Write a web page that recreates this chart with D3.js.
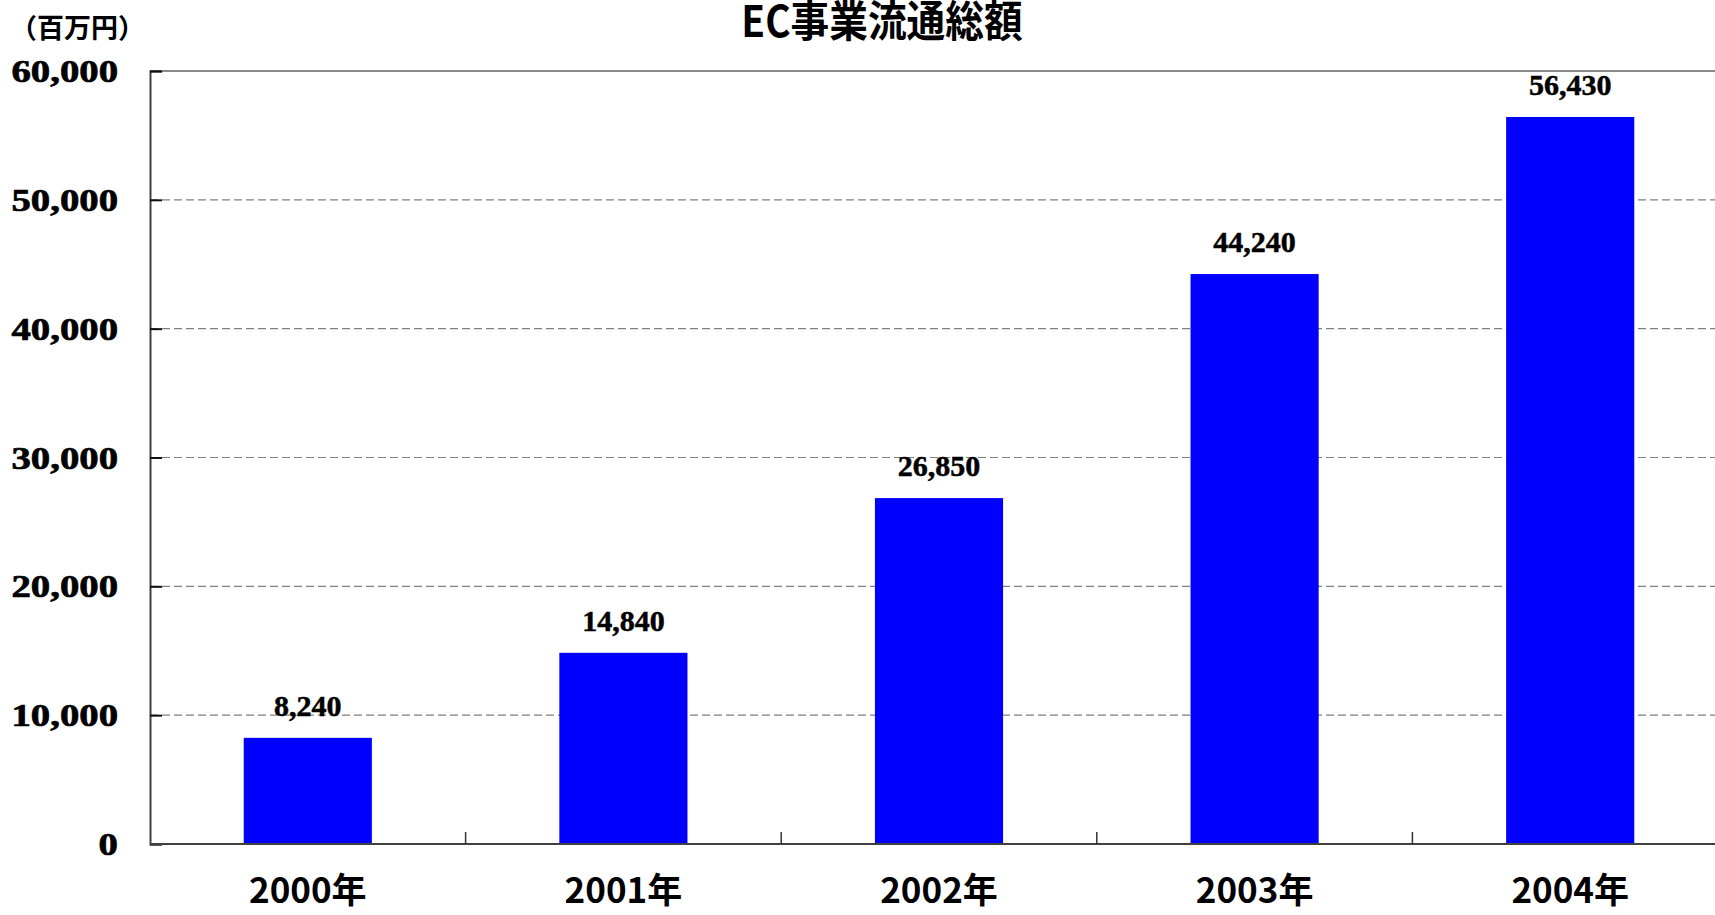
<!DOCTYPE html>
<html><head><meta charset="utf-8">
<script src="https://cdn.jsdelivr.net/npm/d3@7"></script>
<style>html,body{margin:0;padding:0;background:#fff;overflow:hidden}</style>
</head><body>
<svg id="chart" width="1715" height="915"></svg>
<script>
const categories = ["2000年","2001年","2002年","2003年","2004年"];
const values = [8240, 14840, 26850, 44240, 56430];
const yTicks = [0, 10000, 20000, 30000, 40000, 50000, 60000];
const titleText = "EC事業流通総額";
const unitText = "（百万円）";

const svg = d3.select("#chart");
const mLeft = 150, mRight = 1728, mTop = 71, mBottom = 844;
const serif = "'Liberation Serif','Times New Roman',serif";
const gothic = "'Noto Sans CJK JP','Noto Sans',sans-serif";

const x = d3.scaleBand().domain(categories).range([mLeft, mRight]).paddingInner(0.594).paddingOuter(0.297);
const y = d3.scaleLinear().domain([0, 60000]).range([mBottom, mTop]);
const fmt = d3.format(",");

// gridlines
svg.append("g").selectAll("line").data(yTicks.filter(d => d > 0 && d < 60000)).join("line")
  .attr("x1", mLeft).attr("x2", 1715).attr("y1", d => y(d)).attr("y2", d => y(d))
  .attr("stroke", "#808080").attr("stroke-width", 1.2).attr("stroke-dasharray", "8,4");
// top border
svg.append("line").attr("x1", mLeft).attr("x2", 1715).attr("y1", y(60000)).attr("y2", y(60000))
  .attr("stroke", "#888").attr("stroke-width", 2);

// bars
svg.append("g").selectAll("rect").data(values).join("rect")
  .attr("x", (d, i) => x(categories[i])).attr("width", x.bandwidth())
  .attr("y", d => y(d)).attr("height", d => y(0) - y(d)).attr("fill", "#0000FF");

// y axis
const yAxis = d3.axisLeft(y).tickValues(yTicks).tickSize(-12).tickPadding(0).tickFormat(fmt);
const gy = svg.append("g").attr("transform", `translate(${mLeft},0)`).call(yAxis);
gy.select(".domain").attr("stroke", "#404040").attr("stroke-width", 2);
gy.selectAll(".tick line").attr("stroke", "#111").attr("stroke-width", 2);
gy.selectAll(".tick text")
  .attr("font-family", serif).attr("font-weight", "bold").attr("font-size", 31)
  .attr("fill", "#000").attr("stroke", "#000").attr("stroke-width", 0.7)
  .attr("text-anchor", "end").attr("dy", "0.34em")
  .attr("x", 0)
  .attr("transform", "translate(-32,0) scale(1.25,1)");

// x axis
const xAxis = d3.axisBottom(x).tickSize(0).tickPadding(0);
const gx = svg.append("g").attr("transform", `translate(0,${mBottom})`).call(xAxis);
gx.select(".domain").attr("stroke", "#404040").attr("stroke-width", 2).attr("d", `M${mLeft},0H1715`);
gx.selectAll(".tick text")
  .attr("font-family", gothic).attr("font-weight", "bold").attr("font-size", 35)
  .attr("fill", "#000").attr("dy", 0).attr("y", 59);
// category separator ticks
const step = x.step();
svg.append("g").selectAll("line").data(d3.range(1, categories.length + 1)).join("line")
  .attr("x1", i => x(categories[0]) - x.paddingOuter() * step + i * step)
  .attr("x2", i => x(categories[0]) - x.paddingOuter() * step + i * step)
  .attr("y1", mBottom - 12).attr("y2", mBottom)
  .attr("stroke", "#333").attr("stroke-width", 1.5);

// value labels
svg.append("g").selectAll("text").data(values).join("text")
  .attr("x", (d, i) => x(categories[i]) + x.bandwidth() / 2)
  .attr("y", d => y(d) - 22)
  .attr("text-anchor", "middle")
  .attr("font-family", serif).attr("font-weight", "bold").attr("font-size", 30)
  .attr("fill", "#000").attr("stroke", "#000").attr("stroke-width", 0.5)
  .text(d => fmt(d));

// title
svg.append("text").attr("text-anchor", "middle")
  .attr("transform", "translate(882,37) scale(0.9,1)")
  .attr("font-family", gothic).attr("font-weight", "bold").attr("font-size", 43)
  .attr("fill", "#000").text(titleText);

// unit
svg.append("text").attr("x", 10).attr("y", 38)
  .attr("font-family", gothic).attr("font-weight", "bold").attr("font-size", 27)
  .attr("fill", "#000").text(unitText);
</script>
</body></html>
